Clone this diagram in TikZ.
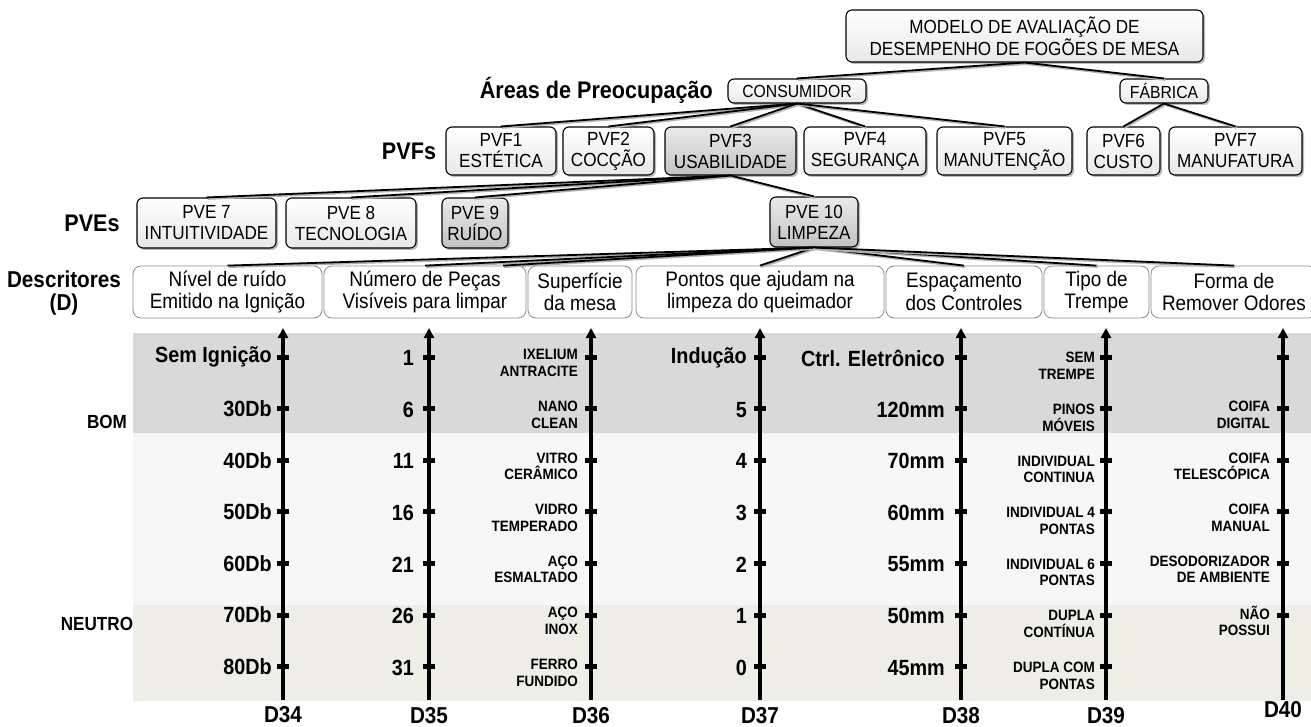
\documentclass[tikz,border=0pt]{standalone}
\usepackage{fontspec}
\setmainfont{Liberation Sans}[FakeStretch=0.9]
\usetikzlibrary{shadows,arrows.meta}
\definecolor{bandtop}{HTML}{D9D9D9}
\definecolor{bandmid}{HTML}{F7F7F7}
\definecolor{bandlow}{HTML}{EEEDE6}
\newcommand\fsz[2]{\fontsize{#1}{#2}\selectfont}
\begin{document}
\begin{tikzpicture}[x=1pt,y=-1pt,
  treebox/.style={draw=black, line width=1.1pt, rounded corners=6pt, align=center,
    inner sep=0pt, top color=white, bottom color=black!9,
    drop shadow={shadow xshift=2pt, shadow yshift=-2pt, opacity=.45, fill=black!60},
    font=\fsz{19}{21}},
  greybox/.style={treebox, top color=black!8, bottom color=black!24},
  descbox/.style={draw=black!45, line width=0.8pt, rounded corners=8pt, fill=white,
    align=center, inner sep=0pt, minimum height=52pt, font=\fsz{21}{22.5}},
  biglabel/.style={font=\bfseries\fsz{24}{25}, inner sep=0pt},
  conn/.style={line width=1.8pt, black,
    preaction={draw=black!30, line width=1.8pt, transform canvas={shift={(1.2pt,-1.5pt)}}}},
  axisline/.style={line width=3.4pt, -{Triangle[length=10pt,width=10pt]}},
  tick/.style={fill=black, minimum width=12pt, minimum height=5pt, inner sep=0pt},
  valA/.style={anchor=east, inner sep=0pt, font=\bfseries\fsz{22}{24}},
  valB/.style={anchor=east, inner sep=0pt, align=right, font=\bfseries\fsz{15}{16.5}},
  dlabel/.style={font=\bfseries\fsz{23}{24}, inner sep=0pt}
]
\useasboundingbox (0,0) rectangle (1311,727);

% rating bands
\fill[bandtop] (133,333) rectangle (1311,433);
\fill[bandmid] (133,433) rectangle (1311,605);
\fill[bandlow] (133,605) rectangle (1311,701);
\node[font=\bfseries\fsz{19}{20}, inner sep=0pt] (bom) at (107,422) {BOM};
\node[font=\bfseries\fsz{19}{20}, inner sep=0pt] (neutro) at (97,624) {NEUTRO};

% hierarchy
\node[treebox, minimum width=357pt, minimum height=52pt, font=\fsz{19}{22}] (top) at (1024.5,36)
  {MODELO DE AVALIAÇÃO DE\\DESEMPENHO DE FOGÕES DE MESA};
\node[biglabel, anchor=east] (lareas) at (713,90) {Áreas de Preocupação};
\node[treebox, minimum width=138pt, minimum height=24pt, font=\fsz{17.5}{19}] (cons) at (797,91) {CONSUMIDOR};
\node[treebox, minimum width=88pt, minimum height=24pt, font=\fsz{17.5}{19}] (fab) at (1164,91) {FÁBRICA};

\node[biglabel] (lpvf) at (409,151) {PVFs};
\node[treebox, minimum width=110pt, minimum height=48pt] (pvf1) at (501,151) {PVF1\\ESTÉTICA};
\node[treebox, minimum width=91pt, minimum height=48pt] (pvf2) at (608.5,151) {PVF2\\COCÇÃO};
\node[greybox, minimum width=131pt, minimum height=48pt] (pvf3) at (730.5,151) {PVF3\\USABILIDADE};
\node[treebox, minimum width=122pt, minimum height=48pt] (pvf4) at (865,151) {PVF4\\SEGURANÇA};
\node[treebox, minimum width=135pt, minimum height=48pt] (pvf5) at (1004.5,151) {PVF5\\MANUTENÇÃO};
\node[treebox, minimum width=73pt, minimum height=48pt] (pvf6) at (1123.5,151) {PVF6\\CUSTO};
\node[treebox, minimum width=133pt, minimum height=48pt] (pvf7) at (1235.5,151) {PVF7\\MANUFATURA};

\node[biglabel] (lpve) at (92,223) {PVEs};
\node[treebox, minimum width=139pt, minimum height=50pt] (pve7) at (206.5,223) {PVE 7\\INTUITIVIDADE};
\node[treebox, minimum width=130pt, minimum height=50pt] (pve8) at (351,223) {PVE 8\\TECNOLOGIA};
\node[greybox, minimum width=66pt, minimum height=50pt] (pve9) at (475,223) {PVE 9\\RUÍDO};
\node[greybox, minimum width=88pt, minimum height=50pt] (pve10) at (814,222) {PVE 10\\LIMPEZA};

\node[biglabel, align=center, font=\bfseries\fsz{23}{23}] (ldesc) at (64,293) {Descritores\\(D)};
\node[descbox, minimum width=189pt] (d1) at (227.5,292) {Nível de ruído\\Emitido na Ignição};
\node[descbox, minimum width=202pt] (d2) at (425,292) {Número de Peças\\Visíveis para limpar};
\node[descbox, minimum width=104pt] (d3) at (580,292) {Superfície\\da mesa};
\node[descbox, minimum width=248pt] (d4) at (760,292) {Pontos que ajudam na\\limpeza do queimador};
\node[descbox, minimum width=156pt] (d5) at (964,292) {Espaçamento\\dos Controles};
\node[descbox, minimum width=105pt] (d6) at (1096.5,292) {Tipo de\\Trempe};
\node[descbox, minimum width=166pt] (d7) at (1234,292) {Forma de\\Remover Odores};

% connectors
\draw[conn] (top.south) -- (cons.north);
\draw[conn] (top.south) -- (fab.north);
\foreach \c in {pvf1,pvf2,pvf3,pvf4,pvf5} \draw[conn] (cons.south) -- (\c.north);
\foreach \c in {pvf6,pvf7} \draw[conn] (fab.south) -- (\c.north);
\foreach \c in {pve7,pve8,pve9,pve10} \draw[conn] (pvf3.south) -- (\c.north);
\foreach \c in {d1,d2,d4,d5,d6,d7} \draw[conn] (pve10.south) -- (\c.north);
\draw[conn] (pve10.south) -- ([xshift=-77pt]d3.north);

% descriptor scales
\foreach \ax/\xx/\yy/\nm in {34/283/715/D34,35/429/716/D35,36/591/716/D36,37/760/716/D37,38/961/716/D38,39/1106/716/D39,40/1283/710/D40} {
  \coordinate (ax\ax b) at (\xx,700);
  \coordinate (ax\ax t) at (\xx,328);
  \draw[axisline] (ax\ax b) -- (ax\ax t);
  \node[dlabel] (lab\ax) at (\xx,\yy) {\nm};
}
\foreach \k in {0,...,6} {
  \foreach \xx in {283,429,591,760,961,1106} \node[tick] at (\xx,357+51.6*\k) {};
}
\foreach \k in {0,...,5} \node[tick] at (1283,357+51.6*\k) {};

\foreach \t [count=\k from 0] in {Sem Ignição,30Db,40Db,50Db,60Db,70Db,80Db}
  \node[valA] at (272,357+51.6*\k) {\t};
\foreach \t [count=\k from 0] in {1,6,11,16,21,26,31}
  \node[valA] at (414,358+51.6*\k) {\t};
\foreach \t [count=\k from 0] in {{IXELIUM\\ANTRACITE},{NANO\\CLEAN},{VITRO\\CERÂMICO},{VIDRO\\TEMPERADO},{AÇO\\ESMALTADO},{AÇO\\INOX},{FERRO\\FUNDIDO}}
  \node[valB] at (578,363+51.6*\k) {\t};
\foreach \t [count=\k from 0] in {Indução,5,4,3,2,1,0}
  \node[valA] at (747,358+51.6*\k) {\t};
\foreach \t [count=\k from 0] in {Ctrl. Eletrônico,120mm,70mm,60mm,55mm,50mm,45mm}
  \node[valA] at (945,358+51.6*\k) {\t};
\foreach \t [count=\k from 0] in {{SEM\\TREMPE},{PINOS\\MÓVEIS},{INDIVIDUAL\\CONTINUA},{INDIVIDUAL 4\\PONTAS},{INDIVIDUAL 6\\PONTAS},{DUPLA\\CONTÍNUA},{DUPLA COM\\PONTAS}}
  \node[valB] at (1095,366+51.6*\k) {\t};
\foreach \t [count=\k from 1] in {{COIFA\\DIGITAL},{COIFA\\TELESCÓPICA},{COIFA\\MANUAL},{DESODORIZADOR\\DE AMBIENTE},{NÃO\\POSSUI}}
  \node[valB] at (1270,363+51.6*\k) {\t};
\end{tikzpicture}
\end{document}
